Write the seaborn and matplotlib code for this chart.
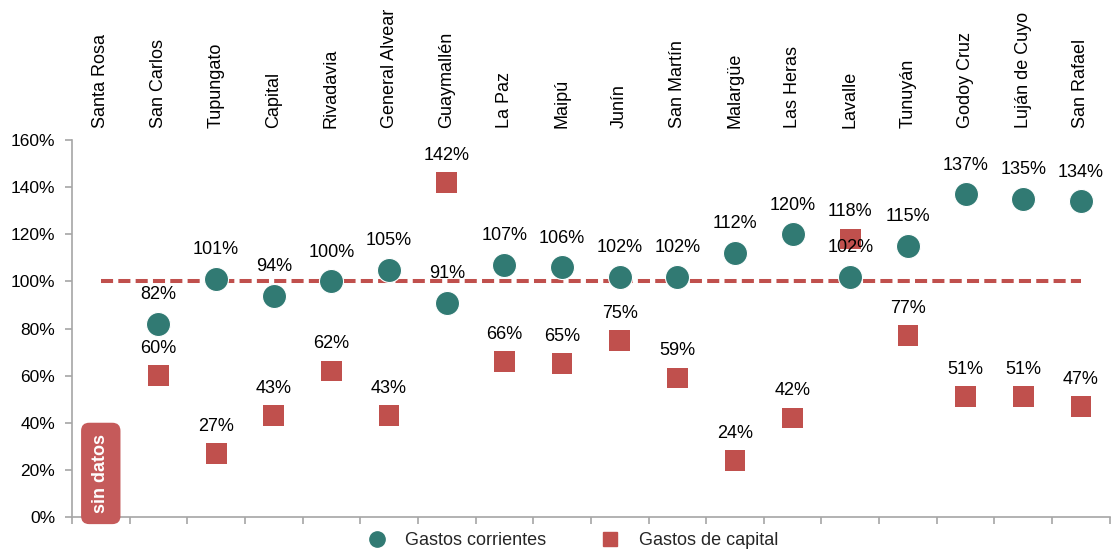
import numpy as np
import pandas as pd
import matplotlib
matplotlib.use("Agg")
import matplotlib.pyplot as plt
import seaborn as sns
from matplotlib.lines import Line2D

categorias = ["Santa Rosa", "San Carlos", "Tupungato", "Capital", "Rivadavia",
              "General Alvear", "Guaymallén", "La Paz", "Maipú", "Junín",
              "San Martín", "Malargüe", "Las Heras", "Lavalle", "Tunuyán",
              "Godoy Cruz", "Luján de Cuyo", "San Rafael"]
corrientes = [0, 82, 101, 94, 100, 105, 91, 107, 106, 102, 102, 112, 120, 102, 115, 137, 135, 134]
capital = [0, 60, 27, 43, 62, 43, 142, 66, 65, 75, 59, 24, 42, 118, 77, 51, 51, 47]
yticks = [0, 20, 40, 60, 80, 100, 120, 140, 160]

verde = "#317A73"
rojo = "#C0504D"

sns.set_theme(style="white")
plt.rcParams['font.family'] = ['Liberation Sans', 'DejaVu Sans']

fig = plt.figure(figsize=(11.12, 5.56), dpi=100)
ax = fig.add_axes([0.0647, 0.0701, 0.9333, 0.6781])

x = np.arange(len(categorias))
df_c = pd.DataFrame({"x": x, "v": corrientes})
df_k = pd.DataFrame({"x": x, "v": capital})

sns.scatterplot(data=df_c, x="x", y="v", ax=ax, color=verde, marker="o", s=300,
                edgecolor="white", linewidth=0.8, zorder=4, clip_on=True, legend=False)
sns.scatterplot(data=df_k, x="x", y="v", ax=ax, color=rojo, marker="s", s=225,
                edgecolor="none", linewidth=0, zorder=3, clip_on=True, legend=False)

ax.plot([x[0], x[-1]], [100, 100], color=rojo, lw=2.9, dashes=(3.0, 1.3), zorder=2)

for i in range(1, len(categorias)):
    ax.annotate(f"{corrientes[i]}%", (x[i], corrientes[i]), xytext=(0, 21),
                textcoords="offset points", ha="center", va="center", fontsize=13,
                color="black", zorder=6)
    ax.annotate(f"{capital[i]}%", (x[i], capital[i]), xytext=(0, 19.5),
                textcoords="offset points", ha="center", va="center", fontsize=13,
                color="black", zorder=6)

for i, c in enumerate(categorias):
    ax.annotate(c, xy=(x[i], 1), xycoords=("data", "axes fraction"), xytext=(0, 9),
                textcoords="offset points", rotation=90, ha="center", va="bottom",
                fontsize=13, color="black")

ax.text(0, 18.5, "sin datos", rotation=90, ha="center", va="center", color="white",
        fontsize=13, fontweight="bold", zorder=10, clip_on=False,
        bbox=dict(boxstyle="round,pad=0.62,rounding_size=0.45", fc="#C55A5A", ec="none"))

ax.set_xlim(-0.5, len(categorias) - 0.5)
ax.set_ylim(0, 160)
ax.set_yticks(yticks)
ax.set_yticklabels([f"{t}%" for t in yticks], fontsize=12.5)
ax.set_xticks(np.arange(-0.5, len(categorias), 1))
ax.set_xticklabels([])
ax.set_xlabel("")
ax.set_ylabel("")
for s in ["top", "right"]:
    ax.spines[s].set_visible(False)
for s in ["left", "bottom"]:
    ax.spines[s].set_color("#A6A6A6")
    ax.spines[s].set_linewidth(1.2)
ax.tick_params(axis="both", which="both", length=5, width=1.2, color="#A6A6A6",
               direction="out", left=True, bottom=True)
ax.tick_params(axis="y", pad=7, labelcolor="black")

handles = [Line2D([], [], marker="o", ls="none", color=verde, markersize=11),
           Line2D([], [], marker="s", ls="none", color=rojo, markersize=10)]
fig.legend(handles, ["Gastos corrientes", "Gastos de capital"], loc="center",
           bbox_to_anchor=(0.511, 0.028), ncol=2, frameon=False, fontsize=13,
           columnspacing=2.5, handletextpad=0.6)

fig.savefig("out.png", dpi=100)
